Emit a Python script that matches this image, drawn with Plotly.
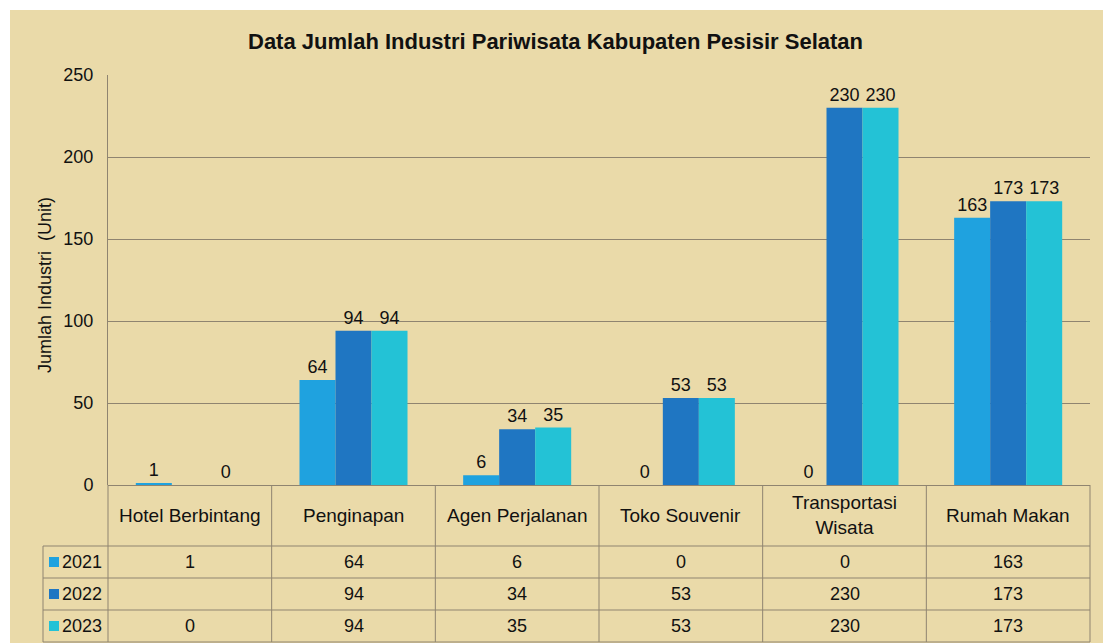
import plotly.graph_objects as go

categories = ["Hotel Berbintang", "Penginapan", "Agen Perjalanan", "Toko Souvenir", "Transportasi Wisata", "Rumah Makan"]
header_labels = ["Hotel Berbintang", "Penginapan", "Agen Perjalanan", "Toko Souvenir", "Transportasi<br>Wisata", "Rumah Makan"]
years = ["2021", "2022", "2023"]
v2021 = [1, 64, 6, 0, 0, 163]
v2022 = [None, 94, 34, 53, 230, 173]
v2023 = [0, 94, 35, 53, 230, 173]
series = [v2021, v2022, v2023]
colors = ["#1fa2df", "#1f76c2", "#23c2d6"]
title = "Data Jumlah Industri Pariwisata Kabupaten Pesisir Selatan"
ytitle = "Jumlah Industri  (Unit)"

W, H = 1108, 643
L, R, T, B = 108, 1090, 75, 485
FONT = "Liberation Sans, Arial, sans-serif"
BG = "#eadaa9"
LINE = "#8f8470"
TXT = "#111111"


def px(x):
    return (x - L) / (R - L)


def py(y):
    return (B - y) / (B - T)


fig = go.Figure()
for name, vals, col in zip(years, series, colors):
    fig.add_trace(go.Bar(
        x=categories, y=vals, name=name, marker=dict(color=col, line=dict(width=0)),
        text=[("" if v is None else str(v)) for v in vals],
        textposition="outside", textfont=dict(size=18, color=TXT, family=FONT),
        constraintext="none", cliponaxis=False, showlegend=False,
    ))

shapes = []
shapes.append(dict(type="rect", xref="paper", yref="paper", x0=px(10), x1=px(1103), y0=py(643), y1=py(10),
                   fillcolor=BG, line=dict(width=0), layer="below"))


def hline(y, x0, x1):
    shapes.append(dict(type="line", xref="paper", yref="paper", x0=px(x0), x1=px(x1), y0=py(y), y1=py(y),
                       line=dict(color=LINE, width=1)))


def vline(x, y0, y1):
    shapes.append(dict(type="line", xref="paper", yref="paper", x0=px(x), x1=px(x), y0=py(y0), y1=py(y1),
                       line=dict(color=LINE, width=1)))


def text(s, x, y, size, xanchor="center", angle=0):
    return dict(text=s, xref="paper", yref="paper", x=px(x), y=py(y), xanchor=xanchor, yanchor="middle",
                textangle=angle, showarrow=False, font=dict(size=size, color=TXT, family=FONT))


n = len(categories)
cw = (R - L) / n
row_tops = [546, 578, 610, 642]
for i in range(n + 1):
    vline(L + i * cw, B, 642)
vline(43, 546, 642)
for y in row_tops:
    hline(y, 43, R)

annotations = []
annotations.append(text("<b>" + title + "</b>", 555, 42, 22))
annotations.append(text(ytitle, 45, 285, 18, angle=-90))
for i, lab in enumerate(header_labels):
    annotations.append(text(lab, L + (i + 0.5) * cw, 515, 19))
for r, (name, vals, col) in enumerate(zip(years, series, colors)):
    yc = (row_tops[r] + row_tops[r + 1]) / 2
    shapes.append(dict(type="rect", xref="paper", yref="paper", x0=px(49), x1=px(59), y0=py(yc + 5), y1=py(yc - 5),
                       fillcolor=col, line=dict(width=0)))
    annotations.append(text(name, 60, yc, 18, xanchor="left"))
    for i, v in enumerate(vals):
        annotations.append(text("" if v is None else str(v), L + (i + 0.5) * cw, yc, 18))

fig.update_layout(
    width=W, height=H, autosize=False,
    margin=dict(l=L, r=W - R, t=T, b=H - B, pad=0),
    paper_bgcolor="white", plot_bgcolor="rgba(0,0,0,0)",
    barmode="group", bargap=0.34, bargroupgap=0,
    font=dict(family=FONT, size=16, color=TXT),
    shapes=shapes, annotations=annotations,
    xaxis=dict(showticklabels=False, showgrid=False, zeroline=False, showline=False, ticks=""),
    yaxis=dict(range=[0, 250], dtick=50, showgrid=True, gridcolor=LINE, gridwidth=1,
               zeroline=True, zerolinecolor=LINE, zerolinewidth=1,
               showline=True, linecolor=LINE, linewidth=1, ticks="",
               tickfont=dict(size=18, color=TXT, family=FONT), ticklabelstandoff=10),
)

fig.write_html("out.html", config={"displayModeBar": False},
               post_script="document.body.style.margin='0';")
